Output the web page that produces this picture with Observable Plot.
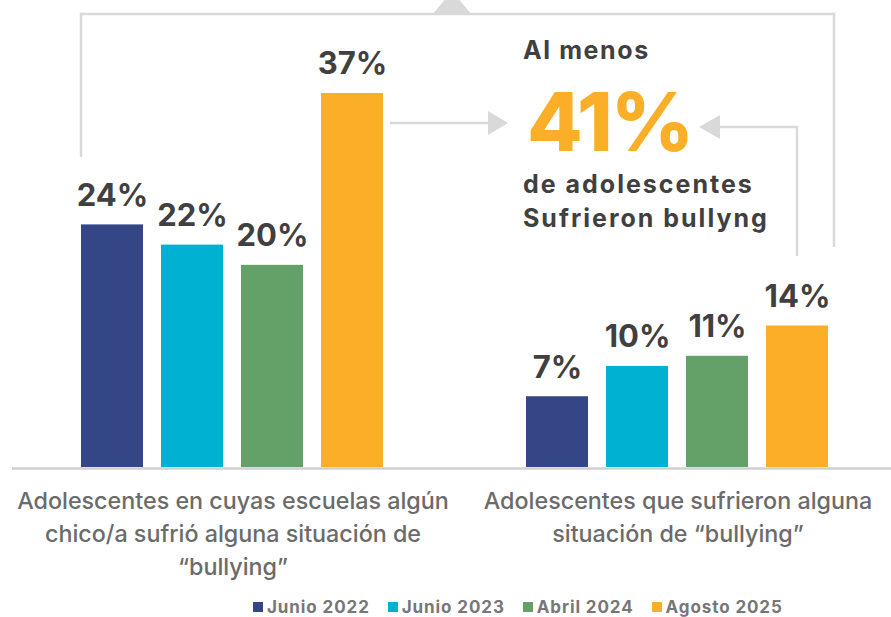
<!DOCTYPE html>
<html><head><meta charset="utf-8">
<script src="https://cdn.jsdelivr.net/npm/d3@7"></script>
<script src="https://cdn.jsdelivr.net/npm/@observablehq/plot@0.6"></script>
<style>
body{margin:0;background:#fff;font-family:Inter, "Noto Sans", sans-serif;}
#chart{width:891px;height:617px;position:relative;overflow:hidden;background:#fff}
#chart svg{display:block;overflow:visible}
.legend{display:flex;align-items:center;height:27px;padding-left:253px;box-sizing:border-box;margin-top:3px}
.legend .item{display:flex;align-items:center;margin-right:18px;font-weight:700;font-size:17px;letter-spacing:0.9px;color:#777}
.legend .sw{width:10px;height:10px;margin-right:4px}
</style></head><body><div id="chart"></div>
<script>
const groups = ["Adolescentes en cuyas escuelas algún\nchico/a sufrió alguna situación de\n“bullying”",
                "Adolescentes que sufrieron alguna\nsituación de “bullying”"];
const series = ["Junio 2022", "Junio 2023", "Abril 2024", "Agosto 2025"];
const colors = ["#344686", "#00B1D2", "#63A169", "#FBAF29"];
const schoolValues = [24, 22, 20, 37];
const sufferedValues = [7, 10, 11, 14];
const totalValue = 41;
const totalLines = ["Al menos", "de adolescentes", "Sufrieron bullyng"];

const data = [];
series.forEach((s, i) => {
  data.push({group: groups[0], series: s, value: schoolValues[i]});
  data.push({group: groups[1], series: s, value: sufferedValues[i]});
});

const plot = Plot.plot({
  width: 891, height: 590,
  marginLeft: 80, marginRight: 60, marginTop: 0, marginBottom: 123,
  fx: {domain: groups, paddingInner: 0.314, paddingOuter: 0, axis: null},
  x: {domain: series, paddingInner: 0.22, paddingOuter: 0, axis: null},
  y: {domain: [0, 46.2], axis: null},
  color: {domain: series, range: colors},
  style: {fontFamily: "Inter, 'Noto Sans', sans-serif", overflow: "visible", background: "transparent"},
  marks: [
    Plot.barY(data, {fx: "group", x: "series", y: "value", fill: "series"}),
    Plot.text(data, {fx: "group", x: "series", y: "value", text: d => d.value + "%", dy: -19,
      lineAnchor: "bottom", fontSize: 31, fontWeight: 700, fill: "#404040"}),
    Plot.text(groups, {fx: d => d, text: d => d, frameAnchor: "bottom", lineAnchor: "top", dy: 18,
      fontSize: 23.3, lineHeight: 1.42, fill: "#6b6b6b", fontWeight: 500})
  ]
});

const root = document.getElementById("chart");
root.appendChild(plot);

// decorations tied to the plot's scales
const fx = plot.scale("fx"), xs = plot.scale("x"), ys = plot.scale("y");
const xr0 = xs.range[0];
const bw = xs.bandwidth;
const X = (g, s) => fx.apply(g) + xs.apply(s) - xr0;
const Y = v => ys.apply(v);
const svg = d3.select(plot);
const gray = "#d9d9d9";
const deco = svg.append("g");

// baseline
deco.append("line").attr("x1", 12).attr("x2", 891).attr("y1", Y(0) + 1.5).attr("y2", Y(0) + 1.5)
  .attr("stroke", "#d0d0d0").attr("stroke-width", 2.5);

const leftX = X(groups[0], series[0]);
const rightX = X(groups[1], series[3]) + bw + 6;
const topY = 14;
deco.append("polyline")
  .attr("points", [[leftX, 157], [leftX, topY], [rightX, topY], [rightX, 247]].map(p => p.join(",")).join(" "))
  .attr("fill", "none").attr("stroke", gray).attr("stroke-width", 2.5);
deco.append("polygon").attr("points", "432,15 472,15 452,-9").attr("fill", gray);

// left arrow from 37% bar
const la0 = X(groups[0], series[3]) + bw + 7;
const ay1 = 123;
deco.append("line").attr("x1", la0).attr("x2", 490).attr("y1", ay1).attr("y2", ay1)
  .attr("stroke", gray).attr("stroke-width", 2.5);
deco.append("polygon").attr("points", `488,${ay1 - 12} 508,${ay1} 488,${ay1 + 12}`).attr("fill", gray);

// right arrow from 14% bar
const rx = X(groups[1], series[3]) + bw / 2;
const ay2 = 127;
deco.append("polyline").attr("points", `718,${ay2} ${rx},${ay2} ${rx},256`)
  .attr("fill", "none").attr("stroke", gray).attr("stroke-width", 2.5);
deco.append("polygon").attr("points", `720,${ay2 - 12} 699,${ay2} 720,${ay2 + 12}`).attr("fill", gray);

// text block
const tx = X(groups[1], series[0]) - 3;
const tg = deco.append("g").attr("font-family", "Inter, 'Noto Sans', sans-serif").attr("font-weight", 700)
  .attr("fill", "#404040").attr("text-anchor", "start");
tg.append("text").attr("x", tx).attr("y", 59).attr("font-size", 25).attr("letter-spacing", 1.6).text(totalLines[0]);
tg.append("text").attr("x", tx + 4).attr("y", 151).attr("font-size", 81).attr("font-weight", 800)
  .attr("letter-spacing", -2).attr("fill", colors[3]).text(totalValue + "%");
tg.append("text").attr("x", tx).attr("y", 193).attr("font-size", 25).attr("letter-spacing", 2).text(totalLines[1]);
tg.append("text").attr("x", tx).attr("y", 227).attr("font-size", 25).attr("letter-spacing", 2).text(totalLines[2]);

// legend
const legend = d3.select(root).append("div").attr("class", "legend");
series.forEach((s, i) => {
  const it = legend.append("div").attr("class", "item");
  it.append("div").attr("class", "sw").style("background", colors[i]);
  it.append("span").text(s);
});
</script></body></html>
